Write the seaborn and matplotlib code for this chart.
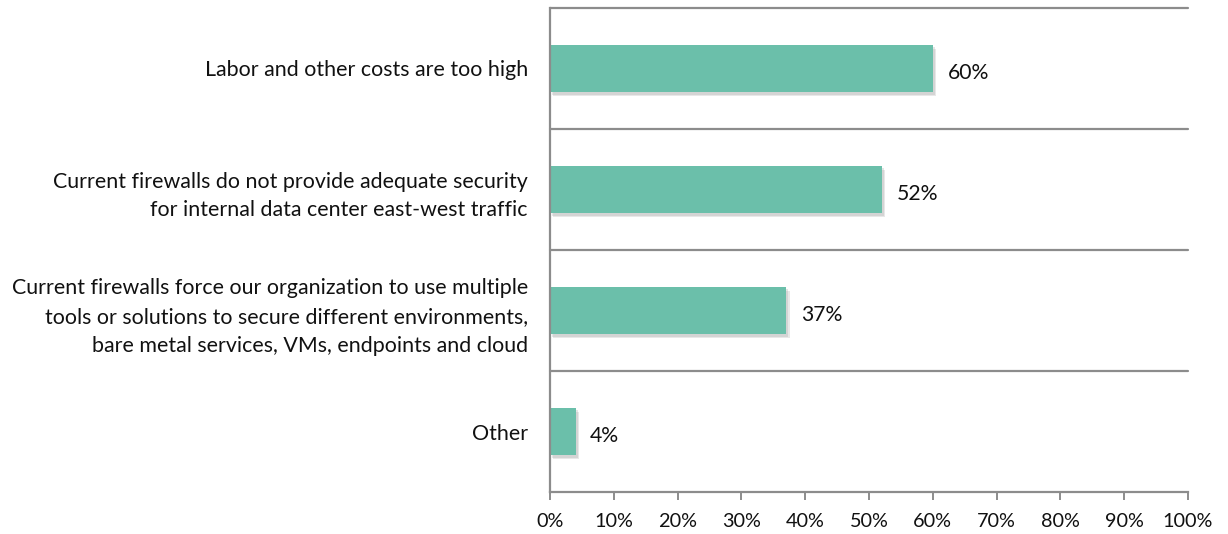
import matplotlib
matplotlib.use("Agg")
import matplotlib.pyplot as plt
import matplotlib.patheffects as pe
from matplotlib.ticker import PercentFormatter
import seaborn as sns
import pandas as pd

categories = [
    "Labor and other costs are too high",
    "Current firewalls do not provide adequate security\nfor internal data center east-west traffic",
    "Current firewalls force our organization to use multiple\ntools or solutions to secure different environments,\nbare metal services, VMs, endpoints and cloud",
    "Other",
]
values = [60, 52, 37, 4]
x_ticks = [0, 10, 20, 30, 40, 50, 60, 70, 80, 90, 100]

sns.set_theme(style="white")
plt.rcParams["font.family"] = ["Lato", "DejaVu Sans"]

df = pd.DataFrame({"reason": categories, "pct": values})

fig = plt.figure(figsize=(12.28, 5.34), dpi=100)
ax = fig.add_axes([550 / 1228, 1 - 492 / 534, 638 / 1228, 484 / 534])

bar_color = "#6bbfaa"
grid_color = "#8c8c8c"

sns.barplot(data=df, x="pct", y="reason", color=bar_color, width=0.39,
            saturation=1, ax=ax, orient="h")

for patch in ax.patches:
    patch.set_edgecolor("none")
    patch.set_path_effects([
        pe.SimplePatchShadow(offset=(2.5, -3), shadow_rgbFace="#9a9a9a", alpha=0.22),
        pe.SimplePatchShadow(offset=(1.5, -1.8), shadow_rgbFace="#9a9a9a", alpha=0.25),
        pe.Normal(),
    ])

for i, v in enumerate(values):
    ax.text(v + 2.3, i + 0.04, f"{v}%", va="center", ha="left",
            fontsize=15.2, color="#111111")

ax.set_xlim(0, 100)
ax.set_ylim(len(categories) - 0.5, -0.5)
ax.set_xticks(x_ticks)
ax.xaxis.set_major_formatter(PercentFormatter(decimals=0))

# Horizontal separators between categories
for b in range(len(categories)):
    ax.axhline(b - 0.5, color=grid_color, lw=1.6, zorder=0.5, clip_on=False)

for side in ["top", "right"]:
    ax.spines[side].set_visible(False)
for side in ["left", "bottom"]:
    ax.spines[side].set_color(grid_color)
    ax.spines[side].set_linewidth(1.6)

ax.tick_params(axis="x", bottom=True, direction="out", length=6, width=1.4,
               color=grid_color, labelsize=14.3, pad=9, labelcolor="#111111")
ax.tick_params(axis="y", left=False, labelsize=15.4, pad=10, labelcolor="#111111")
for lbl in ax.get_yticklabels():
    lbl.set_horizontalalignment("right")
    lbl.set_multialignment("right")
    lbl.set_linespacing(1.55)

ax.set_xlabel("")
ax.set_ylabel("")

fig.savefig("out.png", dpi=100, facecolor="white")
